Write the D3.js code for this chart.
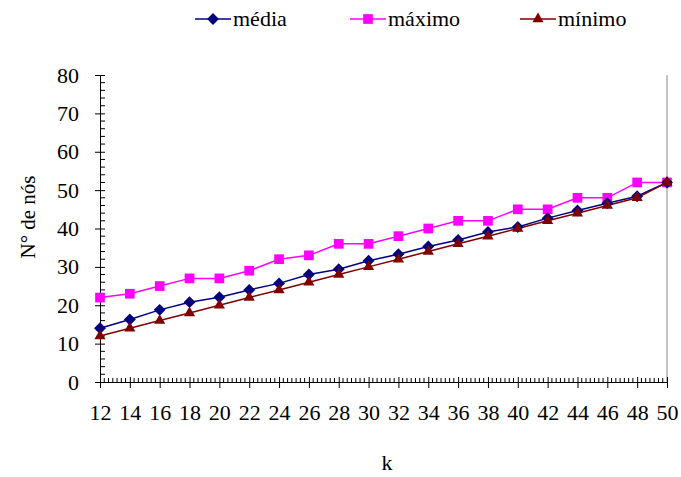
<!DOCTYPE html>
<html><head><meta charset="utf-8">
<script src="https://cdn.jsdelivr.net/npm/d3@7"></script>
<style>body{margin:0;background:#fff}</style>
</head><body><svg id="c" width="681" height="477"></svg>
<script>
const kValues = [12,14,16,18,20,22,24,26,28,30,32,34,36,38,40,42,44,46,48,50];
const media  = [14.0,16.3,18.8,20.8,22.1,24.0,25.7,28.0,29.4,31.6,33.3,35.3,37.0,39.1,40.4,42.7,44.7,46.6,48.4,52];
const maximo = [22,23,25,27,27,29,32,33,36,36,38,40,42,42,45,45,48,48,52,52];
const minimo = [12,14,16,18,20,22,24,26,28,30,32,34,36,38,40,42,44,46,48,52];
const yTicks = [0,10,20,30,40,50,60,70,80];
const seriesNames = ["média","máximo","mínimo"];
const FONT = "'Liberation Serif', 'DejaVu Serif', serif";

const svg = d3.select("#c");
const x = d3.scaleLinear().domain([12,50]).range([100,667]);
const y = d3.scaleLinear().domain([0,80]).range([382,75]);

svg.append("line").attr("x1",x(50)).attr("x2",x(50)).attr("y1",y(80)).attr("y2",y(0)).attr("stroke","#888").attr("stroke-width",1);

const yMinor = d3.range(0,81,2).filter(v=>v%10!==0);
svg.append("g").selectAll("line").data(yMinor).join("line")
  .attr("x1",x(12)).attr("x2",x(12)+5).attr("y1",d=>y(d)).attr("y2",d=>y(d)).attr("stroke","#000");
const xMinor = [];
for(let i=0;i<kValues.length-1;i++){for(let j=1;j<7;j++){xMinor.push(kValues[i]+2*j/7);}}
svg.append("g").selectAll("line").data(xMinor).join("line")
  .attr("x1",d=>x(d)).attr("x2",d=>x(d)).attr("y1",y(0)).attr("y2",y(0)-4).attr("stroke","#000");

const gy = svg.append("g").attr("transform",`translate(${x(12)},0)`)
  .call(d3.axisLeft(y).tickValues(yTicks).tickSize(5).tickPadding(16).tickSizeOuter(0));
gy.attr("font-family",FONT).attr("font-size",22);
gy.selectAll(".tick line").attr("x1",5);
gy.selectAll("text").attr("font-family",FONT).attr("font-size",22).attr("fill","#000");
gy.select(".domain").attr("stroke","#000");

const gx = svg.append("g").attr("transform",`translate(0,${y(0)})`)
  .call(d3.axisBottom(x).tickValues(kValues).tickSize(6).tickPadding(16).tickSizeOuter(0));
gx.attr("font-family",FONT).attr("font-size",22);
gx.selectAll(".tick line").attr("y1",-5);
gx.selectAll("text").attr("font-family",FONT).attr("font-size",22).attr("fill","#000");

svg.append("text").attr("x",387).attr("y",470).attr("text-anchor","middle")
  .attr("font-family",FONT).attr("font-size",22).text("k");
svg.append("text").attr("transform","translate(35,217) rotate(-90)").attr("text-anchor","middle")
  .attr("font-family",FONT).attr("font-size",21).text("N° de nós");

const series = [
  {name:seriesNames[0], vals:media, color:"#000080", sym:d3.symbolDiamond2, size:90},
  {name:seriesNames[1], vals:maximo, color:"#ff00ff", sym:d3.symbolSquare2, size:120},
  {name:seriesNames[2], vals:minimo, color:"#800000", sym:d3.symbolTriangle2, size:90}
];
const order = [1,0,2];
order.forEach(i=>{
  const s = series[i];
  const line = d3.line().x((d,j)=>x(kValues[j])).y(d=>y(d));
  svg.append("path").datum(s.vals).attr("d",line).attr("fill","none").attr("stroke",s.color).attr("stroke-width",1.5);
});
order.forEach(i=>{
  const s = series[i];
  const sym = d3.symbol().type(s.sym).size(s.size);
  svg.append("g").selectAll("path").data(s.vals).join("path")
    .attr("transform",(d,j)=>`translate(${x(kValues[j])},${y(d)})`)
    .attr("d",sym).attr("fill",s.color);
});

const legX = [195,350,520];
series.forEach((s,i)=>{
  const g = svg.append("g").attr("transform",`translate(${legX[i]},19)`);
  g.append("line").attr("x1",0).attr("x2",36).attr("stroke",s.color).attr("stroke-width",1.5);
  g.append("path").attr("transform","translate(18,0)").attr("d",d3.symbol().type(s.sym).size(s.size)()).attr("fill",s.color);
  g.append("text").attr("x",38).attr("y",7).attr("font-family",FONT).attr("font-size",22).attr("fill","#000").text(s.name);
});
</script></body></html>
